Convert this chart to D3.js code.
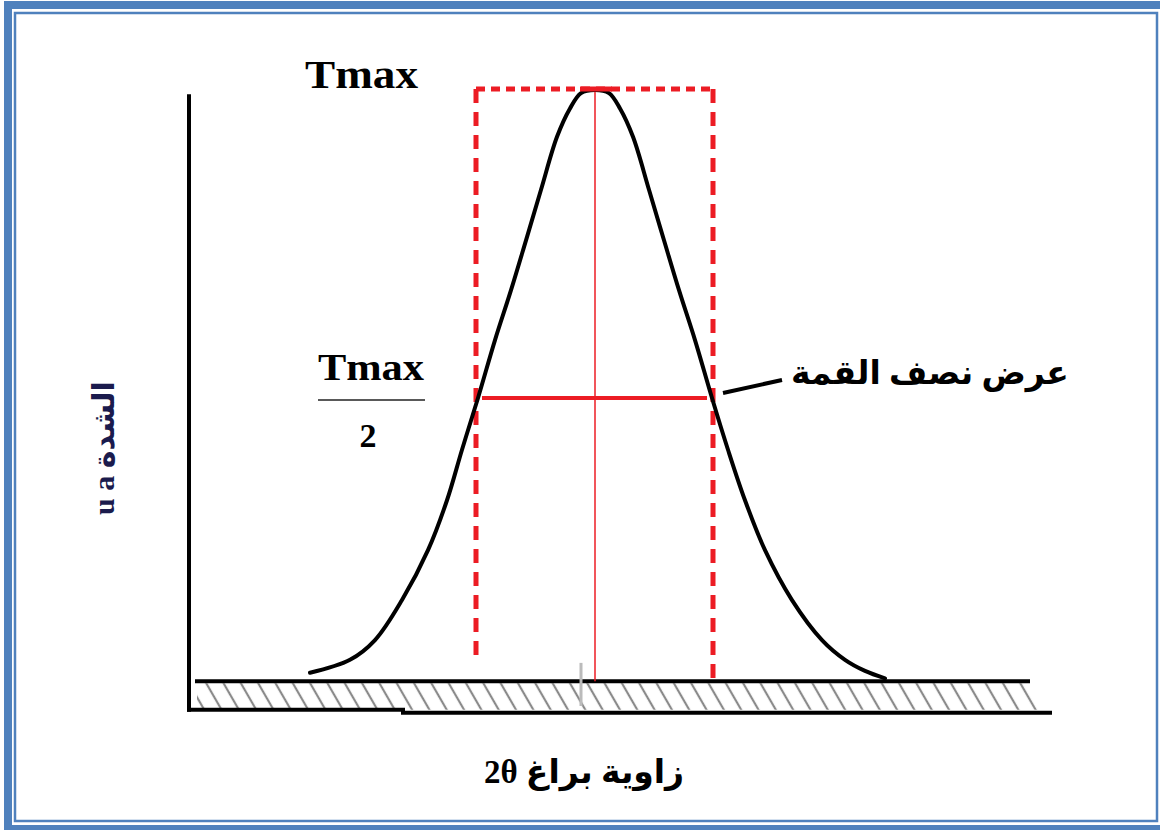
<!DOCTYPE html>
<html>
<head>
<meta charset="utf-8">
<script src="https://cdn.jsdelivr.net/npm/d3@7"></script>
<style>
  html, body { margin: 0; padding: 0; background: #fff; }
  svg { display: block; }
</style>
</head>
<body>
<script>
// peak profile (2theta in degrees, intensity in a.u.)
var angles = [27.15, 27.55, 27.80, 28.07, 28.33, 28.52, 28.67, 28.83, 29.00, 29.16, 29.31, 29.46, 29.62, 29.75, 29.86, 30.00,
              30.14, 30.25, 30.38, 30.54, 30.69, 30.84, 31.00, 31.17, 31.33, 31.50, 31.70, 31.97, 32.27, 32.50, 32.70, 32.90];
var intensity = [5.4, 7.5, 10.7, 17.2, 25.3, 33.4, 41.6, 50.0, 59.4, 67.5, 75.6, 83.8, 92.4, 97.0, 99.5, 100,
                 99.5, 97.0, 92.4, 83.8, 75.6, 67.5, 59.4, 50.0, 41.6, 33.4, 25.3, 17.2, 10.7, 7.5, 5.7, 4.5];

// markers
var peakAngle = 30.0, peakValue = 100;
var halfLeft = 28.81, halfRight = 31.18, halfValue = 50;
var baseValue = 4;

// labels
var labelTop = "Tmax";
var labelHalfNum = "Tmax";
var labelHalfDen = "2";
var labelWidth = "عرض نصف القمة";
var labelX = "زاوية براغ 2θ";
var labelY = "u a الشدة";

var W = 1160, H = 830;
var red = "#ec1c24", blue = "#4f81bd";

var svg = d3.select("body").append("svg")
    .attr("width", W)
    .attr("height", H);

// frame (double blue border)
svg.append("rect").attr("x", 8).attr("y", 5).attr("width", W).attr("height", 824)
    .attr("fill", "none").attr("stroke", blue).attr("stroke-width", 8);
svg.append("rect").attr("x", 15).attr("y", 13).attr("width", 1142).attr("height", 808)
    .attr("fill", "none").attr("stroke", blue).attr("stroke-width", 2.5);

var x = d3.scaleLinear().domain([26, 34.6]).range([195, 1055]);
var y = d3.scaleLinear().domain([0, 100]).range([706, 90]);

// hatch pattern under the base line
var defs = svg.append("defs");
var pat = defs.append("pattern")
    .attr("id", "hatch")
    .attr("patternUnits", "userSpaceOnUse")
    .attr("width", 15).attr("height", 15)
    .attr("patternTransform", "rotate(-30)");
pat.append("line")
    .attr("x1", 2).attr("y1", 0).attr("x2", 2).attr("y2", 15)
    .attr("stroke", "#8a8a8a").attr("stroke-width", 2.2);

var x0 = x.invert(197), x1 = x.invert(1028), x2 = x.invert(1050);
svg.append("path")
    .attr("d", d3.line()([[x(x0), y(baseValue) + 2], [x(x1), y(baseValue) + 2], [x(x2), y(-0.6)], [x(x0), y(-0.6)]]) + "Z")
    .attr("fill", "url(#hatch)");

// axes
var g = svg.append("g").attr("stroke", "#000").attr("stroke-linecap", "square");
g.append("line").attr("x1", 189).attr("x2", 189).attr("y1", y(99)).attr("y2", y(-0.6))
    .attr("stroke-width", 4);
g.append("line").attr("x1", x(x0)).attr("x2", x(x1)).attr("y1", y(baseValue)).attr("y2", y(baseValue))
    .attr("stroke-width", 4);
g.append("line").attr("x1", 189).attr("x2", 403).attr("y1", y(-0.6)).attr("y2", y(-0.6))
    .attr("stroke-width", 4);
g.append("line").attr("x1", 403).attr("x2", x(x2)).attr("y1", y(-1.1)).attr("y2", y(-1.1))
    .attr("stroke-width", 4);

// small gray tick at the base
svg.append("line").attr("x1", 581).attr("x2", 581).attr("y1", y(7)).attr("y2", y(0))
    .attr("stroke", "#bbb").attr("stroke-width", 3);

// red construction lines
svg.append("line")
    .attr("x1", x(peakAngle)).attr("x2", x(peakAngle))
    .attr("y1", y(peakValue)).attr("y2", y(baseValue))
    .attr("stroke", red).attr("stroke-width", 1.5);

svg.append("line")
    .attr("x1", x(halfLeft)).attr("x2", x(halfRight))
    .attr("y1", y(peakValue) - 1).attr("y2", y(peakValue) - 1)
    .attr("stroke", red).attr("stroke-width", 5)
    .attr("stroke-dasharray", "9 6");
svg.append("line")
    .attr("x1", x(halfLeft)).attr("x2", x(halfLeft))
    .attr("y1", y(peakValue) - 1).attr("y2", y(7))
    .attr("stroke", red).attr("stroke-width", 5)
    .attr("stroke-dasharray", "14 9");
svg.append("line")
    .attr("x1", x(halfRight)).attr("x2", x(halfRight))
    .attr("y1", y(peakValue) - 1).attr("y2", y(baseValue))
    .attr("stroke", red).attr("stroke-width", 5)
    .attr("stroke-dasharray", "14 9");

// the peak
var data = angles.map(function(a, i) { return {a: a, v: intensity[i]}; });
var line = d3.line()
    .x(function(d) { return x(d.a); })
    .y(function(d) { return y(d.v); })
    .curve(d3.curveCatmullRom);
svg.append("path")
    .datum(data)
    .attr("d", line)
    .attr("fill", "none")
    .attr("stroke", "#000")
    .attr("stroke-width", 4)
    .attr("stroke-linecap", "round");

// solid cap on top of the peak
svg.append("line")
    .attr("x1", x(peakAngle - 0.15)).attr("x2", x(peakAngle + 0.17))
    .attr("y1", y(peakValue) - 1).attr("y2", y(peakValue) - 1)
    .attr("stroke", red).attr("stroke-width", 5);

svg.append("line")
    .attr("x1", x(halfLeft + 0.06)).attr("x2", x(halfRight - 0.06))
    .attr("y1", y(halfValue)).attr("y2", y(halfValue))
    .attr("stroke", red).attr("stroke-width", 4);

// leader for the FWHM label
svg.append("line")
    .attr("x1", x(halfRight) + 10).attr("y1", y(halfValue) - 5)
    .attr("x2", 782).attr("y2", 380)
    .attr("stroke", "#000").attr("stroke-width", 4);

// texts
var serif = "'Liberation Serif', 'Times New Roman', serif";
var arab = "'Liberation Serif', 'DejaVu Sans', sans-serif";

svg.append("text").text(labelTop)
    .attr("x", 305).attr("y", 88)
    .attr("textLength", 113).attr("lengthAdjust", "spacingAndGlyphs")
    .attr("font-family", serif).attr("font-weight", "bold").attr("font-size", 40);

svg.append("text").text(labelHalfNum)
    .attr("x", 318).attr("y", 380)
    .attr("textLength", 106).attr("lengthAdjust", "spacingAndGlyphs")
    .attr("font-family", serif).attr("font-weight", "bold").attr("font-size", 38);
svg.append("line")
    .attr("x1", 318).attr("x2", 425).attr("y1", 400).attr("y2", 400)
    .attr("stroke", "#222").attr("stroke-width", 1.5);
svg.append("text").text(labelHalfDen)
    .attr("x", 368).attr("y", 447)
    .attr("text-anchor", "middle")
    .attr("font-family", serif).attr("font-weight", "bold").attr("font-size", 34);

svg.append("text").text(labelWidth)
    .attr("x", 930).attr("y", 384)
    .attr("text-anchor", "middle")
    .attr("direction", "rtl")
    .attr("font-family", arab).attr("font-weight", "bold").attr("font-size", 33);

svg.append("text").text(labelX)
    .attr("x", 584).attr("y", 783)
    .attr("text-anchor", "middle")
    .attr("direction", "rtl")
    .attr("font-family", arab).attr("font-weight", "bold").attr("font-size", 33);

svg.append("text").text(labelY)
    .attr("transform", "translate(114,448) rotate(-90)")
    .attr("text-anchor", "middle")
    .attr("fill", "#1b1b4d")
    .attr("font-family", arab).attr("font-weight", "bold").attr("font-size", 30);
</script>
</body>
</html>
